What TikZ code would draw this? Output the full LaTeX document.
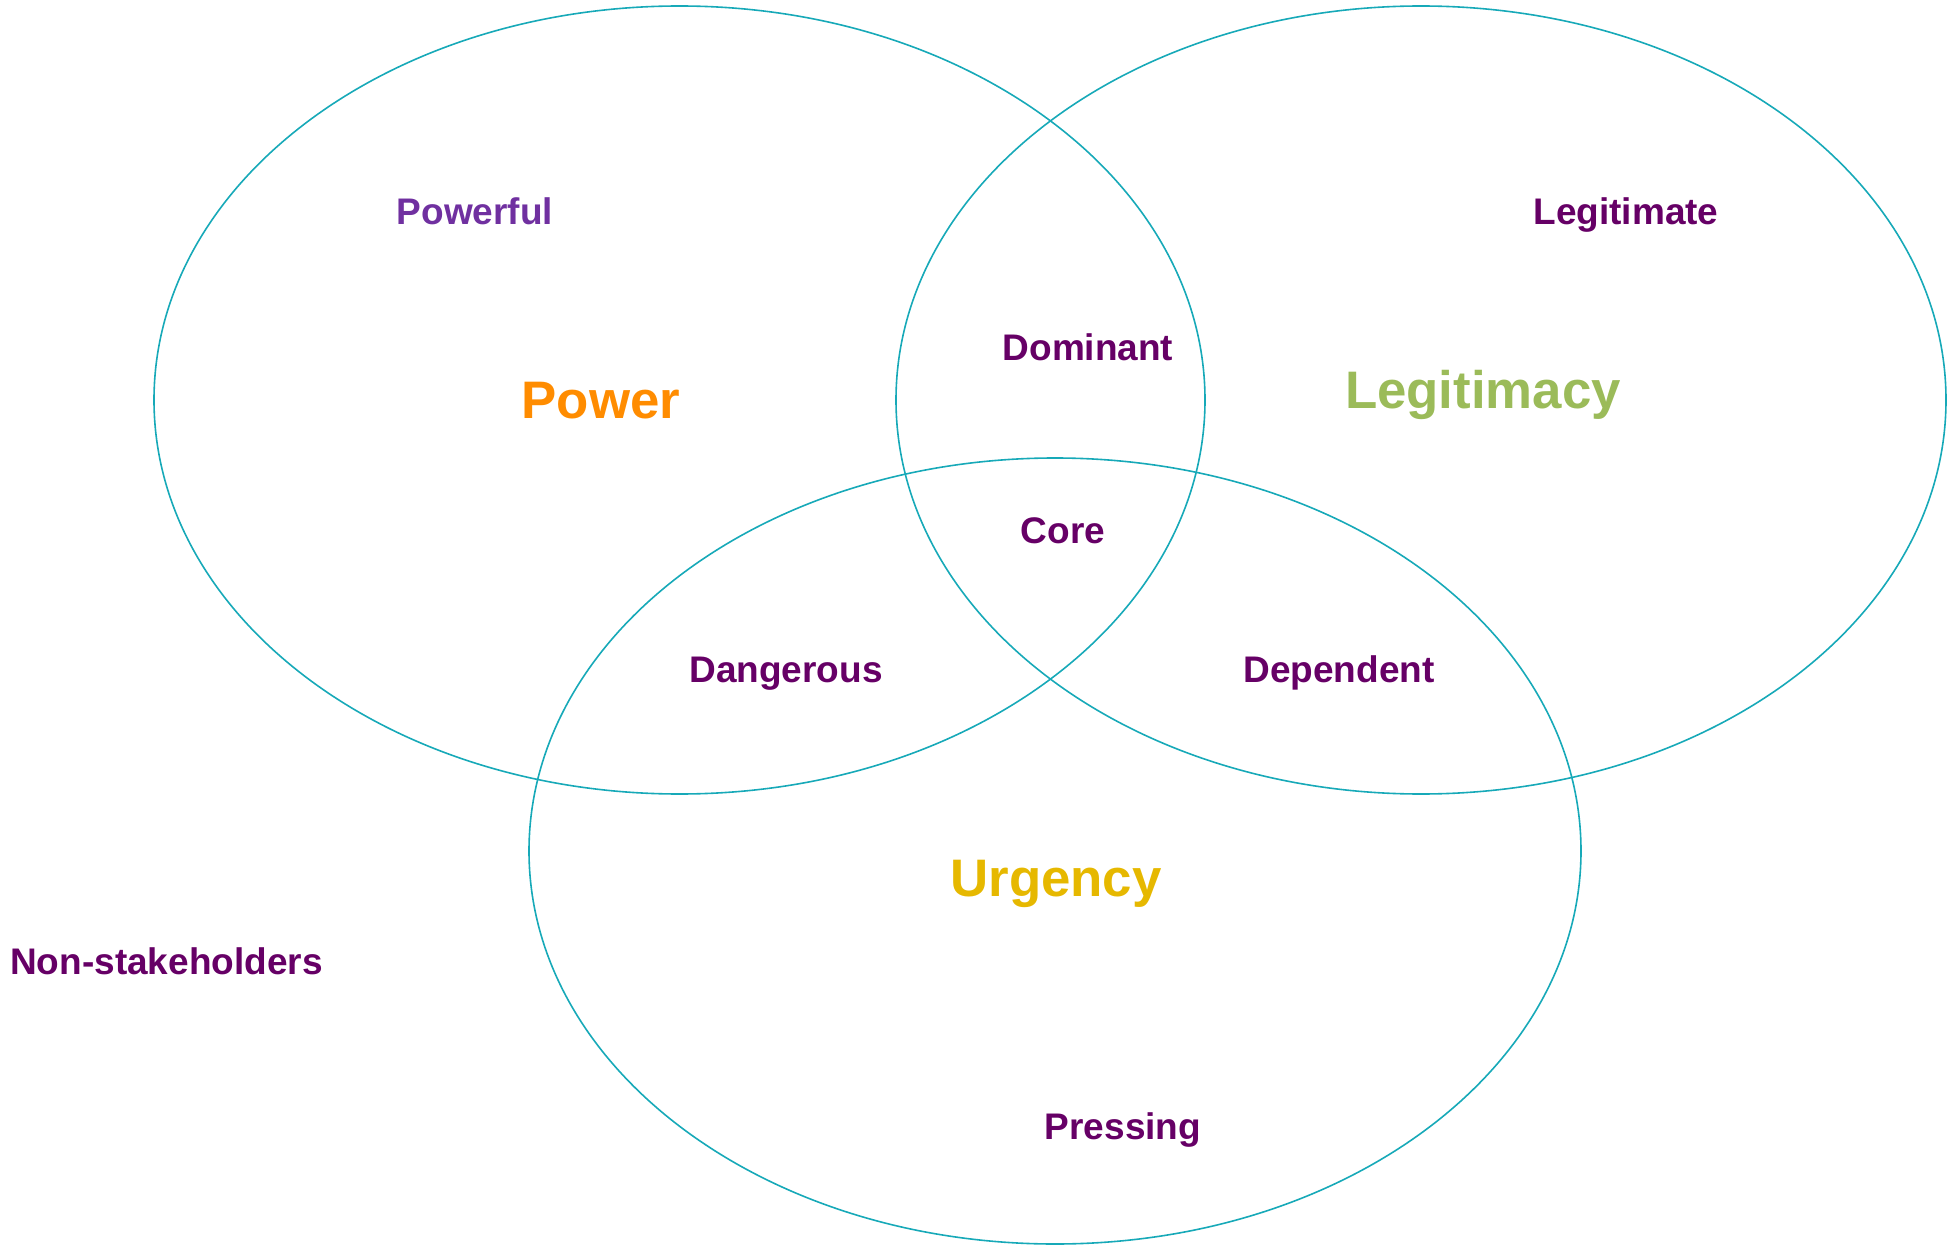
\documentclass[tikz,border=0pt]{standalone}
\usepackage{fontspec}
\setmainfont{Liberation Sans}
\definecolor{ringcol}{HTML}{17A9B8}
\definecolor{plum}{HTML}{660066}
\definecolor{violet}{HTML}{7030A0}
\definecolor{powercol}{HTML}{FF8C00}
\definecolor{legitcol}{HTML}{9BBB59}
\definecolor{urgcol}{HTML}{E6B800}
\begin{document}
\begin{tikzpicture}[x=1pt,y=-1pt,
  ring/.style={draw=ringcol,line width=1.6pt},
  small/.style={font=\bfseries\fontsize{37}{44}\selectfont,text=plum,inner sep=0pt,anchor=base},
  big/.style={font=\bfseries\fontsize{52.8}{60}\selectfont,inner sep=0pt,anchor=base}]
\useasboundingbox (0,0) rectangle (1947,1249);
% the three attribute ellipses
\draw[ring] (679.5,400) ellipse [x radius=525.5, y radius=394];
\draw[ring] (1421,400) ellipse [x radius=525, y radius=394];
\draw[ring] (1055,851) ellipse [x radius=526, y radius=393];
% attribute names
\node[big,text=powercol] (power) at (601,418) {Power};
\node[big,text=legitcol] (legitimacy) at (1483,408) {Legitimacy};
\node[big,text=urgcol] (urgency) at (1056,896) {Urgency};
% stakeholder classes
\node[small,text=violet] (powerful) at (475,225) {Powerful};
\node[small] (legitimate) at (1626,225) {Legitimate};
\node[small] (dominant) at (1088,360) {Dominant};
\node[small] (core) at (1063,543) {Core};
\node[small] (dangerous) at (786,682) {Dangerous};
\node[small] (dependent) at (1339,682) {Dependent};
\node[small] (pressing) at (1123,1139) {Pressing};
\node[small,anchor=base west] (nonstake) at (10,974) {Non-stakeholders};
\end{tikzpicture}
\end{document}
